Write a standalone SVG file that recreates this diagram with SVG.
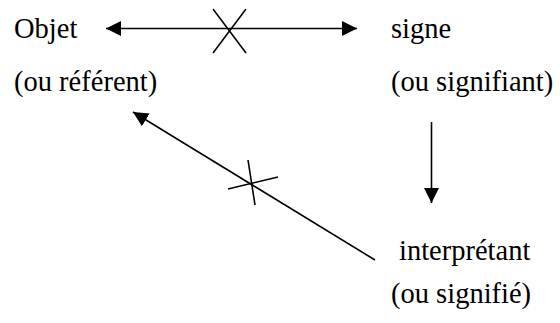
<svg xmlns="http://www.w3.org/2000/svg" width="560" height="323" viewBox="0 0 560 323">
<style>
text{font-family:"Liberation Serif","Times New Roman",serif;font-size:28.5px;fill:#000}
.ln{stroke:#000;stroke-width:1.6;fill:none}
</style>
<defs>
<marker id="ah" markerWidth="16" markerHeight="16" viewBox="0 0 16 16" refX="15" refY="8" orient="auto-start-reverse" markerUnits="userSpaceOnUse">
<path d="M0,0.5 L15,8 L0,15.5 Z" fill="#000"/>
</marker>
</defs>
<rect width="560" height="323" fill="#fff"/>
<g id="objet"><text x="14" y="38">Objet</text><text x="14" y="91">(ou référent)</text></g>
<g id="signe"><text x="391" y="38">signe</text><text x="391" y="91">(ou signifiant)</text></g>
<g id="interpretant"><text x="399" y="260">interprétant</text><text x="391" y="303">(ou signifié)</text></g>
<g id="connectors">
<line class="ln" x1="106" y1="28.5" x2="357" y2="28.5" marker-start="url(#ah)" marker-end="url(#ah)"/>
<line class="ln" x1="213" y1="9" x2="246" y2="53"/>
<line class="ln" x1="246" y1="9" x2="213" y2="53"/>
<line class="ln" x1="431.5" y1="122" x2="431.5" y2="203" marker-end="url(#ah)"/>
<line class="ln" x1="375" y1="260" x2="133" y2="112" marker-end="url(#ah)"/>
<line class="ln" x1="228" y1="189" x2="278" y2="177"/>
<line class="ln" x1="248" y1="160" x2="255" y2="205"/>
</g>
</svg>
